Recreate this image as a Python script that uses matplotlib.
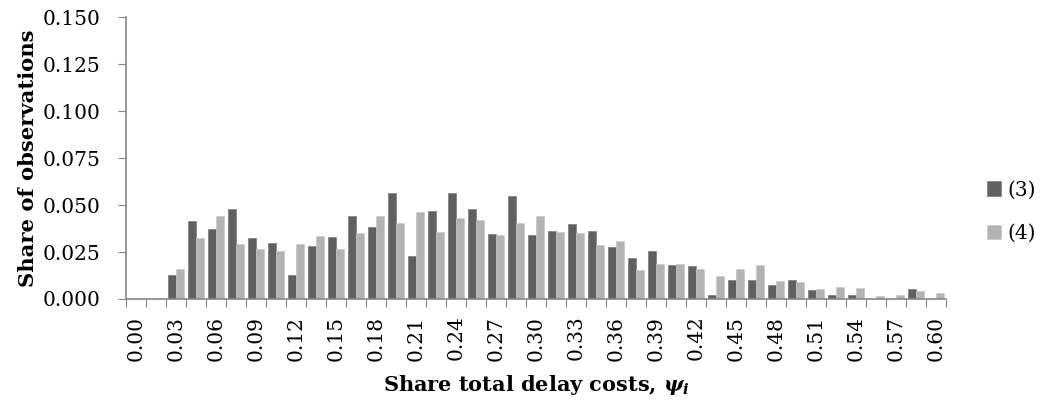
import numpy as np
import matplotlib
matplotlib.use("Agg")
import matplotlib.pyplot as plt

# categories: share total delay costs, 0.000 .. 0.600 step 0.015
categories = [round(0.015 * k, 3) for k in range(41)]
tick_labels = ["%.2f" % c if k % 2 == 0 else "" for k, c in enumerate(categories)]

# series (3) and (4)
series3 = [0.0, 0.0, 0.0128, 0.0414, 0.0371, 0.0478, 0.0327, 0.0296, 0.0128, 0.0282,
           0.0332, 0.0444, 0.0383, 0.0564, 0.0227, 0.0467, 0.0563, 0.0479, 0.0346, 0.0547,
           0.0341, 0.0362, 0.0398, 0.0362, 0.0275, 0.0218, 0.0256, 0.0179, 0.0174, 0.0023,
           0.0101, 0.0101, 0.0076, 0.0101, 0.0050, 0.0023, 0.0023, 0.0, 0.0, 0.0051, 0.0]
series4 = [0.0, 0.0, 0.0158, 0.0325, 0.0440, 0.0291, 0.0266, 0.0254, 0.0295, 0.0335,
           0.0268, 0.0350, 0.0444, 0.0406, 0.0462, 0.0357, 0.0431, 0.0422, 0.0341, 0.0405,
           0.0444, 0.0355, 0.0353, 0.0286, 0.0307, 0.0154, 0.0185, 0.0185, 0.0160, 0.0122,
           0.0161, 0.0179, 0.0098, 0.0089, 0.0053, 0.0062, 0.0057, 0.0016, 0.0021, 0.0041, 0.0034]

plt.rcParams['font.family'] = ['DejaVu Serif']
plt.rcParams['mathtext.fontset'] = 'custom'
plt.rcParams['mathtext.it'] = 'DejaVu Serif:bold:italic'
plt.rcParams['mathtext.rm'] = 'DejaVu Serif:bold'

axis_col = '#868686'
dark = '#606060'
light = '#b3b3b3'

fig = plt.figure(figsize=(10.44, 4.04), dpi=100)
ax = fig.add_axes([0.1207, 0.260, 0.7855, 0.697])

x = np.arange(len(categories))
w = 0.415
ax.bar(x - w / 2, series3, width=w, color=dark, edgecolor='#7a7a7a', linewidth=0.5, label='(3)')
ax.bar(x + w / 2, series4, width=w, color=light, edgecolor='#c8c8c8', linewidth=0.5, label='(4)')

ax.set_xlim(-0.5, len(categories) - 0.5)
ax.set_ylim(0, 0.150)
yt = np.arange(0, 0.151, 0.025)
ax.set_yticks(yt)
ax.set_yticklabels(["%.3f" % v for v in yt], fontsize=14.5)

# tick marks between categories, labels at category centres
ax.set_xticks(list(x - 0.5) + [len(categories) - 0.5])
ax.set_xticklabels([])
ax.set_xticks(x, minor=True)
ax.set_xticklabels(tick_labels, minor=True, rotation=90, fontsize=14.5)
ax.tick_params(axis='x', which='minor', length=0, pad=12)
ax.tick_params(axis='x', which='major', length=5.5, color=axis_col, direction='out')
ax.tick_params(axis='y', length=5.5, color=axis_col, direction='out', pad=13)

for s in ['top', 'right']:
    ax.spines[s].set_visible(False)
for s in ['left', 'bottom']:
    ax.spines[s].set_color(axis_col)
    ax.spines[s].set_linewidth(1.2)

ax.set_ylabel('Share of observations', fontsize=15.2, fontweight='bold', labelpad=3)
ax.set_xlabel(r'Share total delay costs, $\psi_i$', fontsize=15, fontweight='bold')
ax.xaxis.set_label_coords(0.5, -0.262)

leg = ax.legend(loc='center left', bbox_to_anchor=(1.028, 0.31), frameon=False, fontsize=14.5,
                handlelength=0.7, handleheight=0.7, handletextpad=0.3, labelspacing=1.2)

fig.savefig('out.png', dpi=100)
